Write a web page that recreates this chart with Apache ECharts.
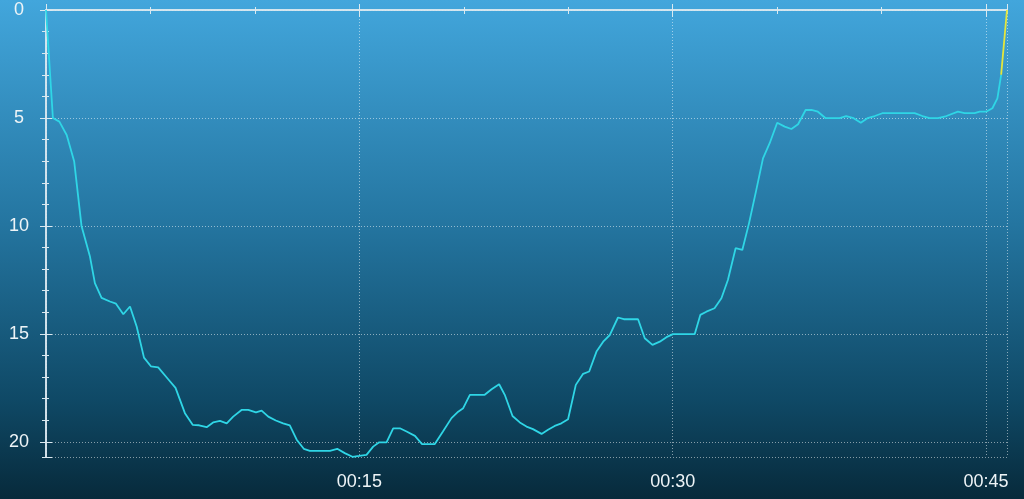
<!DOCTYPE html>
<html>
<head>
<meta charset="utf-8">
<script src="https://cdn.jsdelivr.net/npm/echarts@6/dist/echarts.min.js"></script>
<style>
html,body{margin:0;padding:0;}
#chart{width:1024px;height:499px;}
</style>
</head>
<body>
<div id="chart"></div>
<script>
// Dive profile: time in minutes, depth in metres
var diveTimes = [0,0.33,0.64,0.99,1.35,1.7,2.1,2.34,2.66,3.06,3.35,3.7,4.02,4.34,4.69,5.02,5.37,5.85,6.2,6.65,7.02,7.33,7.69,8.0,8.33,8.65,8.96,9.36,9.68,10.05,10.32,10.64,11.0,11.35,11.67,12.0,12.34,12.63,13.59,13.94,14.3,14.67,14.99,15.34,15.66,15.95,16.3,16.62,16.94,17.26,17.66,18.0,18.61,19.0,19.41,19.73,19.97,20.29,21.0,21.33,21.69,21.96,22.33,22.68,23.0,23.31,23.72,24.03,24.35,24.67,24.99,25.36,25.71,26.0,26.35,26.67,26.99,27.38,27.66,28.34,28.66,29.03,29.38,29.7,30.01,31.05,31.32,31.61,32.0,32.33,32.64,33.01,33.33,33.65,34.0,34.32,34.64,35.0,35.36,35.68,36.0,36.36,36.64,36.95,37.32,37.99,38.3,38.66,39.0,39.32,39.67,40.03,41.58,41.95,42.3,42.7,43.1,43.65,43.97,44.45,44.69,45.0,45.3,45.54,45.72];
var diveDepths = [0,5.0,5.17,5.79,7.02,10.0,11.4,12.65,13.33,13.5,13.6,14.09,13.73,14.66,16.1,16.5,16.55,17.1,17.5,18.67,19.21,19.23,19.32,19.1,19.03,19.14,18.83,18.52,18.52,18.63,18.55,18.83,19.01,19.14,19.24,19.9,20.32,20.42,20.42,20.32,20.52,20.69,20.65,20.6,20.22,20.02,20.02,19.37,19.37,19.52,19.72,20.1,20.1,19.52,18.9,18.6,18.44,17.82,17.82,17.56,17.33,17.82,18.8,19.1,19.29,19.41,19.63,19.44,19.26,19.14,18.95,17.36,16.85,16.74,15.82,15.36,15.05,14.24,14.32,14.32,15.2,15.51,15.36,15.15,15.01,15.01,14.12,13.97,13.81,13.35,12.5,11.03,11.11,9.88,8.33,6.87,6.17,5.22,5.4,5.51,5.29,4.63,4.63,4.71,5.01,5.01,4.91,5.01,5.22,5.01,4.91,4.78,4.78,4.91,5.01,5.01,4.91,4.71,4.78,4.78,4.71,4.71,4.55,4.09,3.0];
// Final fast ascent segment (highlighted)
var ascentTimes = [45.72, 46.0];
var ascentDepths = [3.0, 0];
var yTickLabels = [0, 5, 10, 15, 20];
var xTickLabels = ['00:15', '00:30', '00:45'];

var X_MAX = 46, Y_MAX = 20.7;
var axisCol = '#dbe9f0';
var labelCol = '#eef4f7';
var font = 'Liberation Sans, Arial, sans-serif';

function pairs(xs, ys){ return xs.map(function(x,i){ return [x, ys[i]]; }); }

function xAx(opts){
  return Object.assign({
    type:'value', min:0, max:X_MAX, position:'bottom',
    axisLine:{show:false}, axisLabel:{show:false}, splitLine:{show:false},
    axisTick:{show:true, lineStyle:{color:axisCol, width:1}}
  }, opts);
}
function yAx(opts){
  return Object.assign({
    type:'value', min:0, max:Y_MAX, inverse:true, position:'left',
    axisLine:{show:false}, axisLabel:{show:false}, splitLine:{show:false},
    axisTick:{show:true, lineStyle:{color:axisCol, width:1}}
  }, opts);
}

var chart = echarts.init(document.getElementById('chart'));
chart.setOption({
  animation:false,
  backgroundColor:{type:'linear', x:0, y:0, x2:0, y2:1, colorStops:[
    {offset:0, color:'#42a6dc'},
    {offset:0.45, color:'#2475a0'},
    {offset:0.8, color:'#0f4966'},
    {offset:1, color:'#072a3b'}
  ]},
  grid:{left:46, right:17, top:10, bottom:42},
  xAxis:[
    xAx({interval:15,
      axisLine:{show:true, lineStyle:{color:axisCol, width:1.5}},
      axisTick:{show:true, length:7, lineStyle:{color:axisCol, width:1}},
      axisLabel:{show:true, color:labelCol, fontSize:18, fontFamily:font, margin:16, showMaxLabel:false,
        formatter:function(v){
          var idx = [15,30,45].indexOf(v);
          return idx >= 0 ? xTickLabels[idx] : '';
        }},
      splitLine:{show:true, lineStyle:{color:'rgba(255,255,255,0.5)', type:[1,2], width:1}}
    }),
    xAx({interval:15, axisTick:{show:true, inside:true, length:6, lineStyle:{color:axisCol}}}),
    xAx({interval:5, axisTick:{show:true, length:4, lineStyle:{color:axisCol}}}),
    xAx({interval:5, axisTick:{show:true, inside:true, length:3, lineStyle:{color:axisCol}}}),
    xAx({interval:5, position:'top',
      axisLine:{show:true, lineStyle:{color:axisCol, width:1.5}},
      axisTick:{show:true, inside:true, length:4, lineStyle:{color:axisCol}}})
  ],
  yAxis:[
    yAx({interval:5,
      axisLine:{show:true, lineStyle:{color:axisCol, width:1.5}},
      axisTick:{show:true, length:6, lineStyle:{color:axisCol}},
      axisLabel:{show:true, color:labelCol, fontSize:18, fontFamily:font, margin:27, align:'center', showMaxLabel:false,
        formatter:function(v){ return yTickLabels.indexOf(v) >= 0 ? String(v) : ''; }},
      splitLine:{show:true, lineStyle:{color:'rgba(255,255,255,0.5)', type:[1,2], width:1}}
    }),
    yAx({interval:5, axisTick:{show:true, inside:true, length:6, lineStyle:{color:axisCol}}}),
    yAx({interval:1, axisTick:{show:true, length:3, lineStyle:{color:axisCol}}}),
    yAx({interval:1, axisTick:{show:true, inside:true, length:3, lineStyle:{color:axisCol}}}),
    yAx({interval:1, position:'right',
      axisLine:{show:true, lineStyle:{color:axisCol, width:1.5}},
      axisTick:{show:true, inside:true, length:4, lineStyle:{color:axisCol}}})
  ],
  series:[
    {type:'line', xAxisIndex:0, yAxisIndex:0, data:pairs(diveTimes, diveDepths),
      showSymbol:false, symbol:'none', clip:false,
      lineStyle:{color:'#2fd6e6', width:1.8}},
    {type:'line', xAxisIndex:0, yAxisIndex:0, data:pairs(ascentTimes, ascentDepths),
      showSymbol:false, symbol:'none', clip:false,
      lineStyle:{color:'#e4e63c', width:1.8}}
  ]
});
</script>
</body>
</html>
